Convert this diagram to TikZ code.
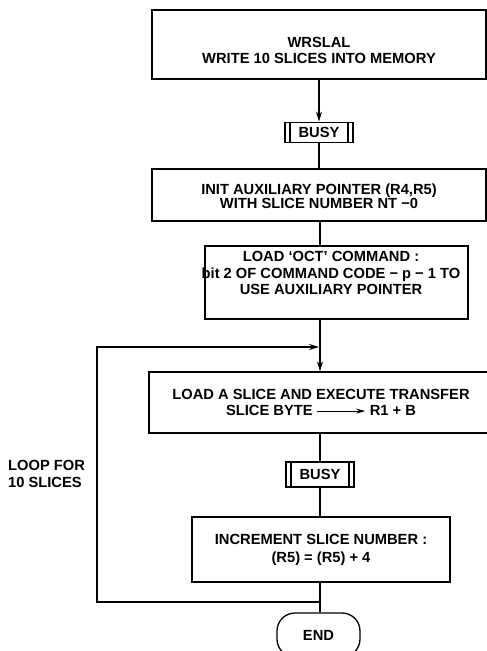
\documentclass[tikz,border=0pt]{standalone}
\usepackage{fontspec}
\setmainfont{Liberation Sans}
\usetikzlibrary{arrows.meta}
\begin{document}
\begin{tikzpicture}[x=1pt,y=-1pt,
  box/.style={draw, line width=1.3pt, inner sep=0pt},
  txt/.style={align=center, inner sep=0pt, font=\fontsize{14.7}{16}\selectfont\bfseries},
  busy/.style={draw, line width=1.3pt, inner sep=0pt, minimum width=68pt,
    font=\fontsize{14.7}{16}\selectfont\bfseries,
    path picture={\draw[line width=1.1pt]
      ([xshift=5pt]path picture bounding box.north west) -- ([xshift=5pt]path picture bounding box.south west)
      ([xshift=-5pt]path picture bounding box.north east) -- ([xshift=-5pt]path picture bounding box.south east);}},
  term/.style={draw, line width=1.3pt, rounded corners=18pt, inner sep=0pt,
    font=\fontsize{14.7}{16}\selectfont\bfseries},
  flow/.style={line width=1.3pt},
  arr/.style={flow, -{Stealth[length=10pt,width=6pt]}}
]
\useasboundingbox (0,0) rectangle (487,651);
\clip (0,0) rectangle (487,651);

% boxes
\node[box, minimum width=334pt, minimum height=69pt] (b1) at (319,44.5) {};
\node[txt] (b1t) at (319,50) {WRSLAL\\WRITE 10 SLICES INTO MEMORY};

\node[busy, minimum height=20.6pt] (busy1) at (319,132.5) {BUSY};

\node[box, minimum width=334pt, minimum height=52pt] (b2) at (319,195) {};
\node[txt, font=\fontsize{14.7}{14}\selectfont\bfseries] (b2t) at (319,196.5) {INIT AUXILIARY POINTER (R4,R5)\\WITH SLICE NUMBER NT −0};

\node[box, minimum width=263pt, minimum height=73pt] (b3) at (336.5,282.5) {};
\node[txt, font=\fontsize{14.7}{16.5}\selectfont\bfseries] (b3t) at (331,273) {LOAD ‘OCT’ COMMAND :\\bit 2 OF COMMAND CODE − p − 1 TO\\USE AUXILIARY POINTER};

\node[box, minimum width=342pt, minimum height=61pt] (b4) at (320,402.5) {};
\node[txt] (b4t) at (321,402) {LOAD A SLICE AND EXECUTE TRANSFER\\SLICE BYTE \tikz[baseline=-4pt]\draw[line width=1pt,-{Stealth[length=9pt,width=5pt]}] (0pt,0pt) -- (48pt,0pt); R1 + B};

\node[busy, minimum height=25pt] (busy2) at (320,474.5) {BUSY};

\node[box, minimum width=258pt, minimum height=65pt] (b5) at (321,549.5) {};
\node[txt, font=\fontsize{14.7}{18}\selectfont\bfseries] (b5t) at (321,550) {INCREMENT SLICE NUMBER :\\(R5) = (R5) + 4};

\node[term, minimum width=83pt, minimum height=44pt] (end) at (318.5,635) {END};

\node[txt, align=left, anchor=west, font=\fontsize{14.7}{17}\selectfont\bfseries] (lp) at (8,473.5) {LOOP FOR\\10 SLICES};

% junctions
\coordinate (j1) at (320,347);
\coordinate (j2) at (320,602);
\coordinate (lb) at (97,602);
\coordinate (lt) at (97,347);

% connectors
\draw[arr] (b1.south -| busy1) -- (busy1.north);
\draw[flow] (busy1.south) -- (busy1.south |- b2.north);
\draw[flow] (b2.south -| j1) -- (j1 |- b3.north);
\draw[flow] (b3.south -| j1) -- (j1);
\draw[arr] (j1) -- (j1 |- b4.north);
\draw[flow] (b4.south -| busy2) -- (busy2.north);
\draw[flow] (busy2.south) -- (busy2.south |- b5.north);
\draw[flow] (b5.south -| j2) -- (j2) -- (j2 |- end.north);
\draw[arr] (j2) -- (lb) -- (lt) -- ([xshift=-1pt]j1);
\end{tikzpicture}
\end{document}
